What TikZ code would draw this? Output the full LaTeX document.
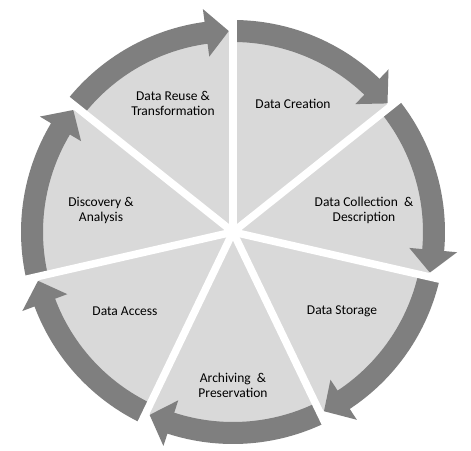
\documentclass[tikz,border=0pt]{standalone}
\usepackage{fontspec}
\setmainfont{Carlito}
\definecolor{piegray}{HTML}{D9D9D9}
\definecolor{arrowgray}{HTML}{7F7F7F}
\begin{document}
\begin{tikzpicture}[x=1pt,y=1pt,
  lbl/.style={align=center, font=\fontsize{13.5}{15}\selectfont, text=black, inner sep=0pt},
  arrowshape/.style={fill=arrowgray},
  spoke/.style={draw=white, line width=7.5pt}]
\useasboundingbox (-233,-218) rectangle (238,232);
% pie
\fill[piegray] (0,0) circle (200pt);
% circular arrows
\foreach \i in {0,...,6}{
  \pgfmathsetmacro{\a}{90-\i*360/7}
  \pgfmathsetmacro{\b}{\a-360/7}
  \pgfmathsetmacro{\hb}{\b+7.7}
  \pgfmathsetmacro{\tp}{\b+1.2}
  \fill[arrowshape] (\a:212pt) arc[start angle=\a, end angle=\hb, radius=212pt]
     -- (\hb:225pt) -- (\tp:201pt) -- (\hb:177pt) -- (\hb:190pt)
     arc[start angle=\hb, end angle=\a, radius=190pt] -- cycle;
}
% white gaps
\foreach \i in {0,...,6}{
  \pgfmathsetmacro{\a}{90-\i*360/7}
  \draw[spoke] (0,0) -- (\a:235pt);
}
% labels
\node[lbl] (reuse) at (-60,129) {Data Reuse \&\\Transformation};
\node[lbl] (creation) at (60,128) {Data Creation};
\node[lbl] (collection) at (131,22) {Data Collection\ \ \&\\Description};
\node[lbl] (storage) at (109,-79) {Data Storage};
\node[lbl] (archiving) at (0,-153) {Archiving\ \ \&\\Preservation};
\node[lbl] (access) at (-108,-79) {Data Access};
\node[lbl] (discovery) at (-132,22) {Discovery \&\\Analysis};
\end{tikzpicture}
\end{document}
